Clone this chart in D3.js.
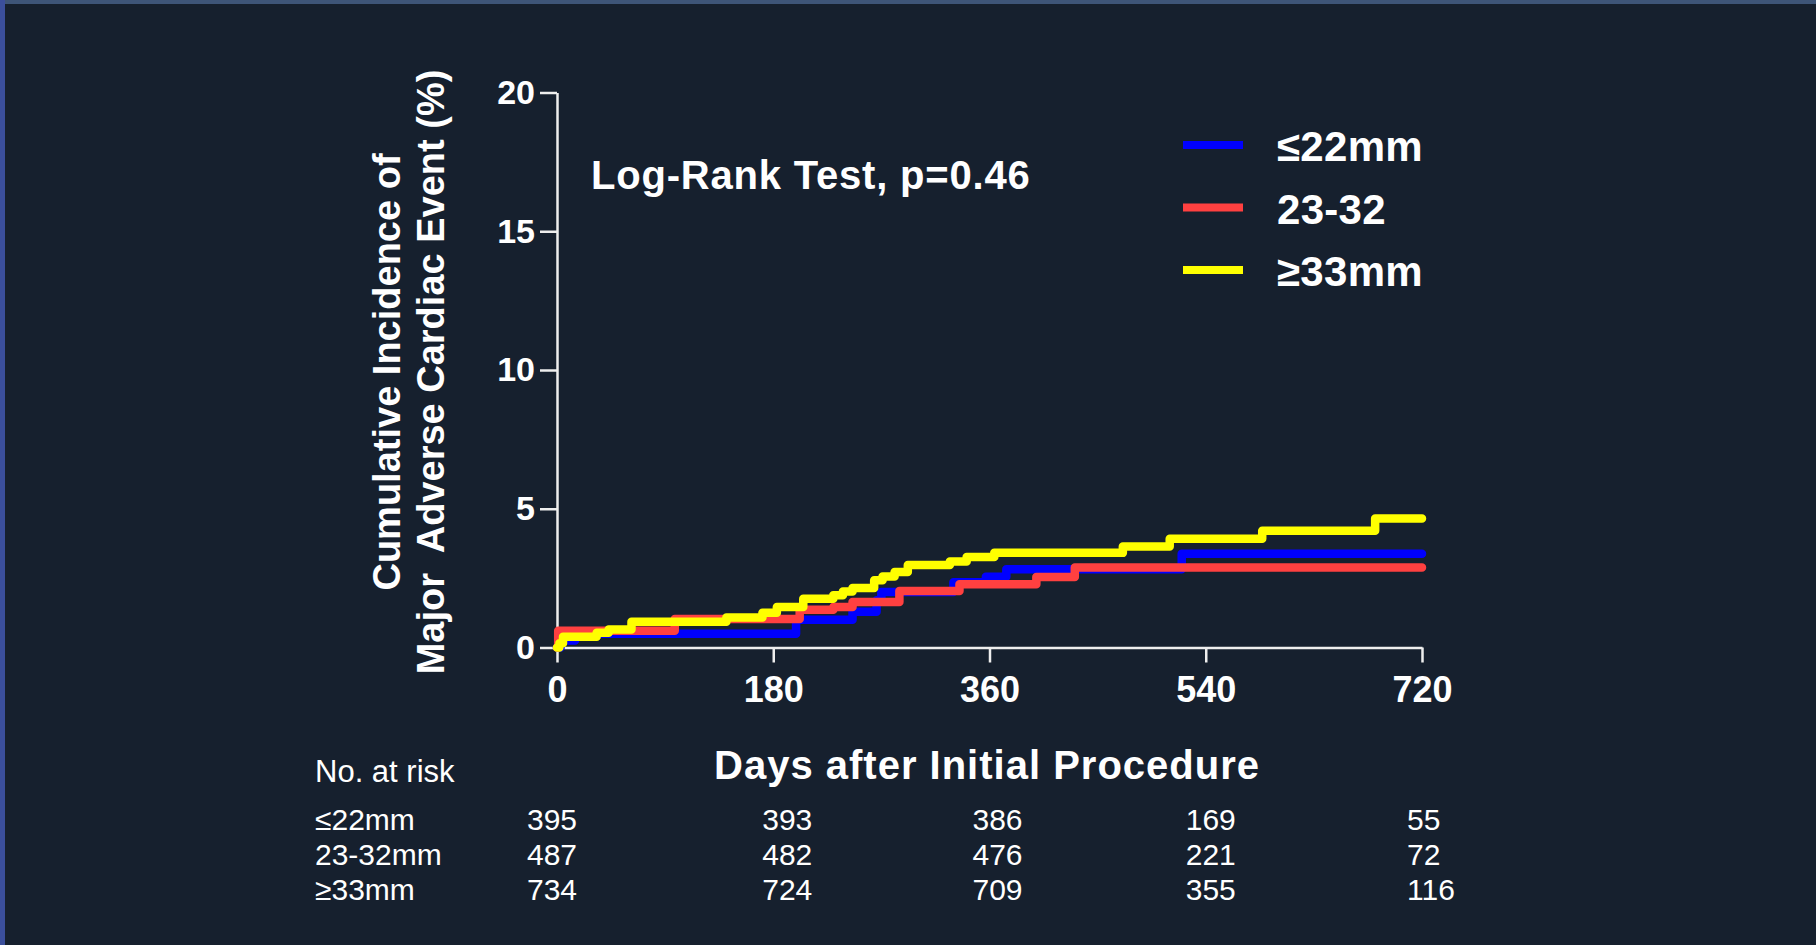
<!DOCTYPE html>
<html>
<head>
<meta charset="utf-8">
<script src="https://cdn.jsdelivr.net/npm/d3@7"></script>
<style>
  body { margin: 0; background: #16202e; }
  svg { display: block; font-family: Arial, "Liberation Sans", sans-serif; }
</style>
</head>
<body>
<svg id="chart" width="1816" height="945"></svg>
<script>
// axis ticks
var dayTicks = [0, 180, 360, 540, 720];
var pctTicks = [0, 5, 10, 15, 20];

// legend / groups
var groups = ['≤22mm', '23-32', '≥33mm'];
var riskLabels = ['≤22mm', '23-32mm', '≥33mm'];

// number at risk, one value per day tick
var risk22 = [395, 393, 386, 169, 55];
var risk2332 = [487, 482, 476, 221, 72];
var risk33 = [734, 724, 709, 355, 116];

// step curves: [day, cumulative %]
var curve22 = [[0, 0], [3, 0.25], [15, 0.5], [199, 1.0], [246, 1.29], [266, 1.7],
  [270, 2.0], [330, 2.35], [357, 2.55], [374, 2.82], [520, 3.38], [720, 3.38]];
var curve2332 = [[0, 0], [1, 0.6], [98, 1.03], [202, 1.36], [230, 1.46], [246, 1.64],
  [285, 2.04], [335, 2.28], [399, 2.54], [431, 2.88], [720, 2.88]];
var curve33 = [[0, 0], [2, 0.15], [5, 0.39], [33, 0.53], [43, 0.65], [62, 0.93],
  [141, 1.08], [171, 1.25], [183, 1.46], [205, 1.76], [230, 1.88], [238, 2.02],
  [246, 2.14], [264, 2.42], [271, 2.56], [281, 2.72], [292, 2.97], [327, 3.10],
  [341, 3.26], [364, 3.41], [471, 3.64], [510, 3.92], [587, 4.21], [681, 4.65], [720, 4.65]];

var colors = ['#0000ff', '#ff4040', '#ffff00'];
var curves = [curve22, curve2332, curve33];
var risks = [risk22, risk2332, risk33];

var svg = d3.select('#chart');

// slide frame
svg.append('rect').attr('width', 1816).attr('height', 945).attr('fill', '#16202e');
svg.append('rect').attr('width', 1816).attr('height', 4).attr('fill', '#3e5578');
svg.append('rect').attr('width', 5).attr('height', 945).attr('fill', '#3b4f9c');

var x = d3.scaleLinear().domain([0, 720]).range([557, 1422]);
var y = d3.scaleLinear().domain([0, 20]).range([647.5, 92.5]);

// axes
var yAxis = svg.append('g')
  .attr('transform', 'translate(' + x(0) + ',0)')
  .call(d3.axisLeft(y).tickValues(pctTicks).tickSize(17).tickSizeOuter(0).tickPadding(5));
var xAxis = svg.append('g')
  .attr('transform', 'translate(0,' + y(0) + ')')
  .call(d3.axisBottom(x).tickValues(dayTicks).tickSize(15).tickSizeOuter(0).tickPadding(14));

[yAxis, xAxis].forEach(function(g) {
  g.selectAll('path, line').attr('stroke', '#eeeeee').attr('stroke-width', 2.5);
  g.selectAll('text').attr('fill', '#fff').attr('font-weight', 'bold')
    .attr('font-family', 'Arial, "Liberation Sans", sans-serif');
});
yAxis.selectAll('text').attr('font-size', 34);
xAxis.selectAll('text').attr('font-size', 36);

// curves, drawn blue, red, yellow so yellow ends up on top
var line = d3.line()
  .x(function(d) { return x(d[0]); })
  .y(function(d) { return y(d[1]); })
  .curve(d3.curveStepAfter);

svg.append('g').selectAll('path.km')
  .data(curves)
  .enter()
    .append('path')
      .attr('class', 'km')
      .attr('d', line)
      .attr('fill', 'none')
      .attr('stroke', function(d, i) { return colors[i]; })
      .attr('stroke-width', 8.5)
      .attr('stroke-linejoin', 'round')
      .attr('stroke-linecap', 'round');

// y axis title, two lines
var yTitle = ['Cumulative Incidence of', 'Major  Adverse Cardiac Event (%)'];
svg.selectAll('text.ytitle')
  .data(yTitle)
  .enter()
    .append('text')
      .attr('class', 'ytitle')
      .attr('transform', function(d, i) { return 'translate(' + (400 + i * 44) + ',372) rotate(-90)'; })
      .attr('text-anchor', 'middle')
      .attr('font-size', 38)
      .attr('font-weight', 'bold')
      .attr('fill', '#fff')
      .style('white-space', 'pre')
      .text(function(d) { return d; });

svg.append('text')
  .attr('x', 591).attr('y', 189)
  .attr('font-size', 40).attr('font-weight', 'bold').attr('fill', '#fff')
  .attr('letter-spacing', 0.8)
  .text('Log-Rank Test, p=0.46');

// legend
var legend = svg.append('g').attr('class', 'legend');
legend.selectAll('line')
  .data(groups)
  .enter()
    .append('line')
      .attr('x1', 1183).attr('x2', 1243)
      .attr('y1', function(d, i) { return 145 + i * 62.5; })
      .attr('y2', function(d, i) { return 145 + i * 62.5; })
      .attr('stroke', function(d, i) { return colors[i]; })
      .attr('stroke-width', 8);
legend.selectAll('text')
  .data(groups)
  .enter()
    .append('text')
      .attr('x', 1277)
      .attr('y', function(d, i) { return 161 + i * 62.5; })
      .attr('font-size', 42).attr('font-weight', 'bold').attr('fill', '#fff')
      .attr('letter-spacing', 0.3)
      .text(function(d) { return d; });

// x axis title
svg.append('text')
  .attr('x', 987).attr('y', 779)
  .attr('text-anchor', 'middle')
  .attr('font-size', 40).attr('font-weight', 'bold').attr('fill', '#fff')
  .attr('letter-spacing', 1)
  .text('Days after Initial Procedure');

// number at risk table
svg.append('text')
  .attr('x', 315).attr('y', 782)
  .attr('font-size', 31).attr('fill', '#fff')
  .text('No. at risk');

var riskNudge = [-30, -11, -17, -20, -15];
var rows = svg.append('g').selectAll('g.row')
  .data(risks)
  .enter()
    .append('g')
      .attr('class', 'row')
      .attr('transform', function(d, i) { return 'translate(0,' + (830 + i * 35) + ')'; });

rows.append('text')
  .attr('x', 315)
  .attr('font-size', 30).attr('fill', '#fff')
  .text(function(d, i) { return riskLabels[i]; });

rows.selectAll('text.n')
  .data(function(d) { return d; })
  .enter()
    .append('text')
      .attr('class', 'n')
      .attr('x', function(d, i) { return x(dayTicks[i]) + riskNudge[i]; })
      .attr('font-size', 30).attr('fill', '#fff')
      .text(function(d) { return d; });
</script>
</body>
</html>
